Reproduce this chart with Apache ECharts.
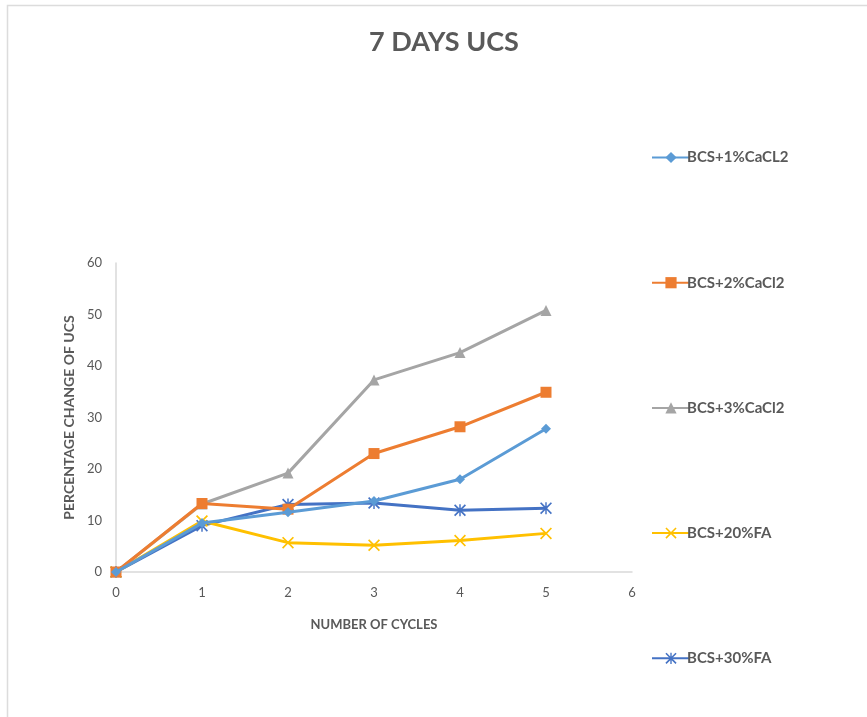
<!DOCTYPE html>
<html>
<head>
<meta charset="utf-8">
<script src="https://cdn.jsdelivr.net/npm/echarts@6/dist/echarts.min.js"></script>
<style>
  html, body { margin: 0; padding: 0; background: #fff; }
  #chart { width: 867px; height: 717px; }
</style>
</head>
<body>
<div id="chart"></div>
<script>
// Freeze-thaw cycles vs. percentage change of 7-day UCS
const cycles = [0, 1, 2, 3, 4, 5];
const seriesNames = ['BCS+1%CaCL2', 'BCS+2%CaCl2', 'BCS+3%CaCl2', 'BCS+20%FA', 'BCS+30%FA'];
const cacl1 = [0, 9.5, 11.6, 13.8, 18.0, 27.8];
const cacl2 = [0, 13.3, 12.2, 23.0, 28.2, 34.9];
const cacl3 = [0, 13.2, 19.2, 37.3, 42.6, 50.8];
const fa20  = [0, 9.9, 5.7, 5.2, 6.1, 7.5];
const fa30  = [0, 9.0, 13.1, 13.4, 12.0, 12.4];
const yTicks = [0, 10, 20, 30, 40, 50, 60];

const colors = ['#5B9BD5', '#ED7D31', '#A5A5A5', '#FFC000', '#4472C4'];
const crossPath = 'path://M0,1 L1,0 L5,4 L9,0 L10,1 L6,5 L10,9 L9,10 L5,6 L1,10 L0,9 L4,5 Z';
const starPath = 'path://M0,1 L1,0 L5,4 L9,0 L10,1 L6,5 L10,9 L9,10 L5,6 L1,10 L0,9 L4,5 Z M4.4,0 L5.6,0 L5.6,10 L4.4,10 Z';
const symbols = ['diamond', 'rect', 'triangle', crossPath, starPath];
const sizes = [10, 11, 11, 12, 12];
const values = [cacl1, cacl2, cacl3, fa20, fa30];

const textColor = '#595959';
const font = 'Lato, "Open Sans", sans-serif';

const chart = echarts.init(document.getElementById('chart'));
chart.setOption({
  animation: false,
  backgroundColor: '#fff',
  color: colors,
  title: {
    text: '7 DAYS UCS',
    left: 439,
    textAlign: 'center',
    top: 24,
    textStyle: { fontFamily: font, fontSize: 27, fontWeight: 'bold', color: textColor }
  },
  graphic: [{
    type: 'rect',
    shape: { x: 7.5, y: 5.5, width: 900, height: 800 },
    style: { fill: 'none', stroke: '#dcdcdc', lineWidth: 1.5 },
    silent: true
  }],
  legend: {
    orient: 'vertical',
    left: 646,
    top: 145,
    itemGap: 110.2,
    itemWidth: 38,
    itemHeight: 14,
    textStyle: { fontFamily: font, fontSize: 15, fontWeight: 'bold', color: textColor, padding: [0, 0, 0, -8] },
    data: seriesNames
  },
  grid: { left: 116, right: 235, top: 263, bottom: 145 },
  xAxis: {
    type: 'value',
    min: 0, max: 6, interval: 1,
    name: 'NUMBER OF CYCLES',
    nameLocation: 'middle',
    nameGap: 46,
    nameTextStyle: { fontFamily: font, fontSize: 13, fontWeight: 'bold', color: textColor },
    axisLine: { lineStyle: { color: '#d9d9d9', width: 1.5 } },
    axisTick: { show: false },
    splitLine: { show: false },
    axisLabel: { fontFamily: font, fontSize: 13, color: textColor, margin: 14 }
  },
  yAxis: {
    type: 'value',
    min: yTicks[0], max: yTicks[yTicks.length - 1], interval: 10,
    name: 'PERCENTAGE CHANGE OF UCS',
    nameLocation: 'middle',
    nameGap: 40,
    nameTextStyle: { fontFamily: font, fontSize: 14, fontWeight: 'bold', color: textColor },
    axisLine: { show: true, lineStyle: { color: '#d9d9d9', width: 1.5 } },
    axisTick: { show: false },
    splitLine: { show: false },
    axisLabel: { fontFamily: font, fontSize: 13, color: textColor, margin: 14 }
  },
  series: seriesNames.map((name, i) => ({
    name: name,
    type: 'line',
    data: cycles.map((c, j) => [c, values[i][j]]),
    symbol: symbols[i],
    symbolSize: sizes[i],
    showAllSymbol: true,
    lineStyle: { width: 3, color: colors[i] },
    itemStyle: { color: colors[i] },
    z: 10 - i
  }))
});
</script>
</body>
</html>
